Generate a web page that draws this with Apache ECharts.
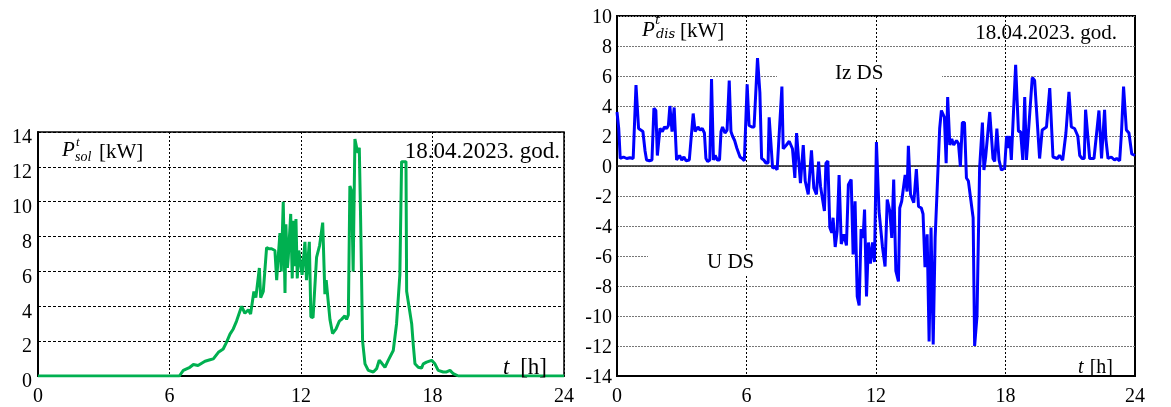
<!DOCTYPE html>
<html><head><meta charset="utf-8">
<script src="https://cdn.jsdelivr.net/npm/echarts@6/dist/echarts.min.js"></script>
<style>html,body{margin:0;padding:0;background:#fff;font-family:"Liberation Serif",serif}#c{width:1171px;height:407px}</style>
</head><body><div id="c"></div>
<script>
// ---- data ----
const xTickStep = 6; // hours
const solTime = [0,6.45,6.63,6.93,7.09,7.3,7.62,7.85,8.0,8.23,8.45,8.6,8.76,8.91,9.06,9.15,9.29,9.44,9.6,9.7,9.85,9.94,10.1,10.16,10.28,10.43,10.55,10.66,10.81,10.89,10.95,11.04,11.1,11.19,11.27,11.31,11.38,11.42,11.53,11.6,11.65,11.72,11.77,11.83,11.9,11.95,12.05,12.18,12.25,12.38,12.45,12.55,12.71,12.85,12.99,13.09,13.15,13.24,13.32,13.44,13.6,13.75,13.85,14.0,14.08,14.16,14.23,14.31,14.38,14.46,14.54,14.6,14.66,14.72,14.81,14.92,15.07,15.3,15.45,15.57,15.68,15.83,15.98,16.21,16.36,16.51,16.59,16.79,16.82,17.05,17.12,17.2,17.35,17.5,17.58,17.73,17.96,18.11,18.26,18.49,18.64,18.8,18.95,19.18,24];
const solPower = [0,0,0.32,0.5,0.66,0.6,0.85,0.93,0.98,1.36,1.55,1.93,2.4,2.7,3.15,3.1,4.0,3.6,3.8,3.55,4.85,4.5,6.2,4.5,4.85,7.37,7.3,7.3,7.2,5.5,6.65,8.2,6.0,10.0,4.76,8.7,6.2,6.8,9.3,5.6,8.9,6.3,9.0,5.6,7.2,7.2,5.8,7.7,5.5,7.7,3.4,3.35,6.8,7.5,8.8,4.7,5.5,4.3,3.25,2.44,2.7,3.15,3.25,3.45,3.25,3.5,10.9,10.6,6.0,13.6,13.1,12.8,13.1,9.0,2.0,0.7,0.32,0.23,0.42,0.9,0.74,0.5,0.9,1.46,3.0,5.8,12.3,12.3,4.86,3.0,1.83,0.7,0.5,0.45,0.7,0.8,0.9,0.7,0.32,0.23,0.23,0.32,0.13,0,0];

const disTime = [0,0.08,0.15,0.3,0.45,0.6,0.75,0.88,1.0,1.1,1.2,1.3,1.37,1.5,1.62,1.71,1.8,1.87,1.99,2.1,2.2,2.3,2.38,2.45,2.55,2.65,2.76,2.9,3.0,3.1,3.2,3.35,3.53,3.62,3.75,3.85,3.95,4.05,4.12,4.2,4.3,4.38,4.47,4.55,4.65,4.75,4.82,4.89,5.0,5.1,5.2,5.28,5.35,5.45,5.55,5.7,5.8,5.9,5.95,6.03,6.12,6.25,6.35,6.43,6.51,6.62,6.7,6.8,6.9,7.0,7.05,7.12,7.21,7.31,7.42,7.64,7.7,7.85,7.98,8.13,8.24,8.32,8.41,8.5,8.63,8.72,8.86,8.93,9.01,9.12,9.24,9.34,9.43,9.52,9.61,9.68,9.77,9.86,9.95,10.01,10.11,10.2,10.29,10.39,10.51,10.63,10.72,10.85,10.94,11.03,11.13,11.22,11.31,11.4,11.47,11.56,11.65,11.74,11.84,11.93,12.02,12.14,12.3,12.42,12.52,12.64,12.73,12.82,12.92,13.04,13.1,13.19,13.35,13.44,13.5,13.6,13.75,13.87,13.97,14.1,14.18,14.27,14.37,14.46,14.55,14.65,14.74,14.88,14.95,15.03,15.1,15.17,15.25,15.32,15.42,15.51,15.6,15.73,15.82,15.91,16.0,16.1,16.19,16.28,16.5,16.57,16.68,16.8,16.93,17.0,17.08,17.27,17.42,17.5,17.6,17.7,17.81,17.96,18.05,18.15,18.2,18.27,18.47,18.6,18.7,18.8,18.89,18.97,19.05,19.24,19.35,19.58,19.7,19.9,20.05,20.1,20.2,20.4,20.5,20.65,20.8,20.94,21.05,21.2,21.35,21.44,21.55,21.65,21.71,21.9,22.1,22.33,22.45,22.59,22.65,22.75,22.9,23.05,23.15,23.29,23.38,23.47,23.6,23.72,23.85,24];
const disPower = [3.6,2.5,0.5,0.6,0.5,0.55,0.5,5.4,2.5,2.4,2.3,1.0,0.4,0.35,0.4,3.85,3.7,0.7,2.5,2.3,2.6,2.5,2.7,4.0,2.3,3.9,0.4,0.7,0.4,0.6,0.35,0.4,3.5,2.3,2.6,2.4,2.5,2.2,0.5,0.3,0.4,5.8,0.4,0.7,0.4,0.4,2.3,2.6,2.2,2.4,5.7,2.3,2.0,1.7,1.2,0.6,0.5,0.35,0.3,5.45,2.7,2.6,2.6,2.7,7.2,4.9,0.5,0.4,0.2,0.2,3.25,3.25,-0.15,-0.05,-0.25,5.3,1.15,1.4,1.65,1.15,-0.8,2.2,2.15,-1.15,1.4,-1.0,-1.9,-2.0,1.05,-1.47,-1.9,0.3,-1.36,-1.25,-3.0,0.18,0.33,-4.1,-4.45,-3.45,-5.4,-4.33,-0.6,-5.2,-4.55,-5.3,-1.25,-0.9,-5.9,-2.35,-8.7,-9.3,-4.2,-4.8,-2.9,-8.7,-5.1,-6.5,-5.1,-6.4,1.6,-3.0,-5.4,-6.7,-2.24,-3.0,-4.8,-0.9,-7.0,-7.7,-2.8,-2.35,-0.6,-1.7,1.35,-1.9,-2.45,-0.2,-2.7,-2.8,-3.2,-6.75,-4.55,-11.7,-4.1,-11.9,-4.8,0.05,2.5,3.7,3.8,3.25,0.18,4.6,1.4,1.8,1.4,1.7,1.5,-0.05,2.9,2.9,-0.8,-1.0,-3.45,-12.0,-10.0,-0.15,2.9,-0.27,0.6,3.6,0.5,0.3,2.5,0.4,-0.27,-0.15,2.0,1.2,2.0,0.4,6.75,2.3,2.3,0.4,4.6,0.4,2.0,5.9,5.7,0.5,2.4,2.6,5.2,5.1,0.6,0.5,0.7,0.4,2.2,4.95,2.6,2.5,2.0,0.7,0.5,0.5,3.75,0.5,0.5,3.7,0.5,3.75,1.8,0.5,0.6,0.4,0.5,0.35,2.4,5.3,2.4,2.2,0.8,0.7];

const dateText = '18.04.2023. god.';
// --------------------------------------

const zip = (a, b) => a.map((t, i) => [t, b[i]]);
const FF = '"Liberation Serif", serif';
const richNum = { n: { fontFamily: 'Liberation Serif', fontSize: 20, color: '#000' } };

const chart = echarts.init(document.getElementById('c'), null, { renderer: 'canvas' });

function xAx(gi, extra) {
  return Object.assign({
    type: 'value', gridIndex: gi, min: 0, max: 24, interval: xTickStep,
    axisLine: { show: true, onZero: false, lineStyle: { color: '#000', width: 2 } },
    axisTick: { show: false },
    axisLabel: { margin: 11, formatter: '{n|{value}}', rich: richNum, fontFamily: 'Liberation Serif', fontSize: 20, color: '#000' },
    splitLine: { show: true, lineStyle: { color: '#000', width: 1, type: [2, 2] } }
  }, extra || {});
}

function txt(x, y, s, font, align) {
  return { type: 'text', x: x, y: y, z: 10,
    style: { text: s, font: font, fill: '#000', textAlign: align || 'left', textVerticalAlign: 'middle' } };
}

const option = {
  animation: false,
  backgroundColor: '#fff',
  textStyle: { fontFamily: 'Liberation Serif', color: '#000' },
  grid: [
    { left: 38, top: 132, right: 607, bottom: 28, show: true, borderColor: '#000', borderWidth: 1.5, backgroundColor: 'transparent' },
    { left: 617, top: 16, right: 36, bottom: 28, show: true, borderColor: '#000', borderWidth: 2, backgroundColor: 'transparent' }
  ],
  xAxis: [
    xAx(0),
    xAx(1),
    // zero line of the right chart
    { type: 'value', gridIndex: 1, min: 0, max: 24, interval: xTickStep,
      axisLine: { show: true, onZero: true, lineStyle: { color: '#222', width: 1.5 } },
      axisTick: { show: false }, axisLabel: { show: false }, splitLine: { show: false } }
  ],
  yAxis: [
    { type: 'value', gridIndex: 0, min: 0, max: 14, interval: 2,
      axisLine: { show: true, lineStyle: { color: '#000', width: 2 } },
      axisTick: { show: false },
      axisLabel: { margin: 6, formatter: '{n|{value}}',
        rich: { n: { fontFamily: 'Liberation Serif', fontSize: 20, color: '#000', padding: [12, 0, 0, 0] } } },
      splitLine: { show: true, lineStyle: { color: '#000', width: 1, type: [3, 2] } } },
    { type: 'value', gridIndex: 1, min: -14, max: 10, interval: 2,
      axisLine: { show: true, lineStyle: { color: '#000', width: 2 } },
      axisTick: { show: false },
      axisLabel: { margin: 5, formatter: '{n|{value}}',
        rich: { n: { fontFamily: 'Liberation Serif', fontSize: 20, color: '#000', padding: [4, 0, 0, 0] } } },
      splitLine: { show: true, lineStyle: { color: '#777', width: 1, type: [2, 1] } } }
  ],
  series: [
    { type: 'line', xAxisIndex: 0, yAxisIndex: 0, data: zip(solTime, solPower),
      showSymbol: false, symbol: 'none', lineStyle: { color: '#00b050', width: 3 }, z: 3 },
    { type: 'line', xAxisIndex: 1, yAxisIndex: 1, data: zip(disTime, disPower),
      showSymbol: false, symbol: 'none', lineStyle: { color: '#0000ff', width: 3 }, z: 3 }
  ],
  graphic: [
    // white boxes behind the region labels
    { type: 'rect', z: 1, shape: { x: 777, y: 63, width: 165, height: 24 }, style: { fill: '#fff' } },
    { type: 'rect', z: 1, shape: { x: 648, y: 250, width: 162, height: 24 }, style: { fill: '#fff' } },
    // left chart texts
    txt(62, 150, 'P', 'italic 21px ' + FF),
    txt(76, 143, 't', 'italic 13px ' + FF),
    txt(75, 157, 'sol', 'italic 14px ' + FF),
    txt(99, 152, '[kW]', '21px ' + FF),
    txt(560, 152, dateText, '23px ' + FF, 'right'),
    txt(503, 368, 't', 'italic 23px ' + FF),
    txt(547, 368, '[h]', '23px ' + FF, 'right'),
    // right chart texts
    txt(642, 30, 'P', 'italic 21px ' + FF),
    txt(655, 21, 't', 'italic 13px "DejaVu Serif", serif'),
    txt(656, 35, 'dis', 'italic 13px "DejaVu Serif", serif'),
    txt(680, 31, '[kW]', '21px ' + FF),
    txt(1117, 33, dateText, '21px ' + FF, 'right'),
    txt(835, 73, 'Iz DS', '21px ' + FF),
    txt(707, 262, 'U DS', '21px ' + FF),
    txt(1078, 368, 't', 'italic 20px ' + FF),
    txt(1113, 368, '[h]', '20px ' + FF, 'right')
  ]
};
chart.setOption(option);
</script>
</body></html>
